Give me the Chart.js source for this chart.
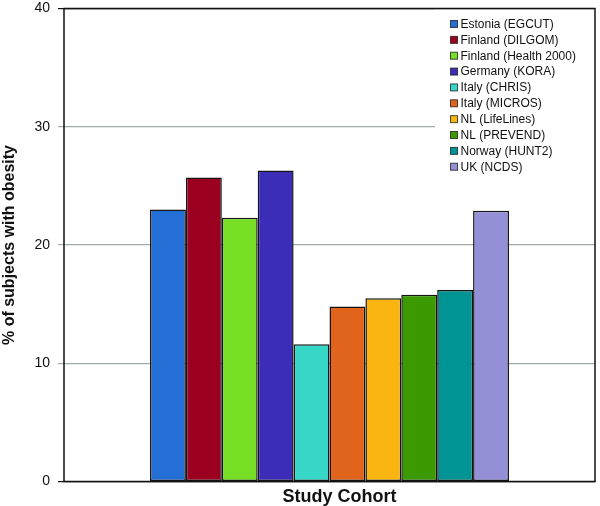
<!DOCTYPE html>
<html>
<head>
<meta charset="utf-8">
<script src="https://cdn.jsdelivr.net/npm/chart.js@4.4.1/dist/chart.umd.min.js"></script>
<style>
  html, body { margin: 0; padding: 0; background: #ffffff; }
  #wrap { width: 600px; height: 506px; }
</style>
</head>
<body>
<div id="wrap"><canvas id="c" width="600" height="506"></canvas></div>
<script>
// ---- data ----
const categories = ['Study Cohort'];
const cohorts = [
  'Estonia (EGCUT)', 'Finland (DILGOM)', 'Finland (Health 2000)', 'Germany (KORA)',
  'Italy (CHRIS)', 'Italy (MICROS)', 'NL (LifeLines)', 'NL (PREVEND)',
  'Norway (HUNT2)', 'UK (NCDS)'
];
const obesityPct = [23.0, 25.7, 22.3, 26.3, 11.6, 14.8, 15.5, 15.8, 16.2, 22.9];
const barColors = [
  '#236fd6', '#9b0020', '#76de24', '#3c2db9', '#37d7c8',
  '#e0641c', '#fab511', '#3a9a00', '#009494', '#9490d8'
];
const yTicks = [0, 10, 20, 30, 40];
const yTitle = '% of subjects with obesity';
const xTitle = 'Study Cohort';

const FONT = '"Liberation Sans", Arial, Helvetica, sans-serif';
const GRID_GRAY = '#a2acac';

const datasets = cohorts.map((name, i) => ({
  label: name,
  data: [obesityPct[i]],
  backgroundColor: barColors[i],
  borderColor: '#141414',
  borderWidth: 1.5,
  borderSkipped: false,
  barPercentage: 1.0,
  categoryPercentage: 0.676
}));

const decorPlugin = {
  id: 'decor',
  afterDraw(chart) {
    const ctx = chart.ctx;
    const ca = chart.chartArea;
    ctx.save();
    // legend box (white background inside plot area, top-right)
    const n = chart.data.datasets.length;
    const rowH = 15.86;
    const boxLeft = ca.right - 160;
    const firstY = ca.top + 15.5;
    ctx.fillStyle = '#ffffff';
    ctx.fillRect(boxLeft, ca.top + 1, ca.right - boxLeft, rowH * n + 10);
    ctx.font = '12px ' + FONT;
    ctx.textBaseline = 'middle';
    ctx.textAlign = 'left';
    chart.data.datasets.forEach((ds, i) => {
      const cy = firstY + i * rowH;
      const sx = boxLeft + 15.5;
      ctx.fillStyle = ds.backgroundColor;
      ctx.fillRect(sx, cy - 3.5, 7, 7);
      ctx.strokeStyle = 'rgba(20,20,20,0.75)';
      ctx.lineWidth = 1;
      ctx.strokeRect(sx, cy - 3.5, 7, 7);
      ctx.fillStyle = '#111111';
      ctx.fillText(ds.label, sx + 10, cy + 0.5);
    });
    // plot frame
    ctx.strokeStyle = '#111111';
    ctx.lineWidth = 1.5;
    ctx.strokeRect(ca.left, ca.top, ca.right - ca.left, ca.bottom - ca.top);
    // x axis title
    ctx.fillStyle = '#111111';
    ctx.font = 'bold 18px ' + FONT;
    ctx.textAlign = 'center';
    ctx.textBaseline = 'alphabetic';
    ctx.fillText(chart.data.labels[0], (ca.left + ca.right) / 2 + 10, ca.bottom + 20.5);
    ctx.restore();
  }
};

new Chart(document.getElementById('c'), {
  type: 'bar',
  data: { labels: categories, datasets: datasets },
  plugins: [decorPlugin],
  options: {
    responsive: false,
    animation: false,
    devicePixelRatio: 1,
    layout: { padding: { top: 0, right: 5, bottom: 0, left: 0 } },
    plugins: {
      legend: { display: false },
      tooltip: { enabled: false },
      title: { display: false }
    },
    scales: {
      x: {
        type: 'category',
        offset: true,
        ticks: { display: false },
        grid: { display: false },
        border: { display: false },
        title: { display: false, text: xTitle },
        afterFit(scale) { scale.height = 24.5; }
      },
      y: {
        min: 0,
        max: 40,
        afterBuildTicks(scale) { scale.ticks = yTicks.map(v => ({ value: v })); },
        ticks: {
          padding: 8,
          color: '#111111',
          font: { family: FONT, size: 14 }
        },
        grid: {
          drawTicks: true,
          tickLength: 6,
          lineWidth: 1.2,
          color: (c) => (c.tick && (c.tick.value === 0 || c.tick.value === 40)) ? '#111111' : GRID_GRAY
        },
        border: { display: false },
        title: {
          display: true,
          text: yTitle,
          color: '#111111',
          padding: 0,
          font: { family: FONT, size: 16, weight: 'bold' }
        },
        afterFit(scale) {
          scale.width = 64;
          scale.paddingTop = 8.5;
          scale.paddingBottom = 0;
        }
      }
    }
  }
});
</script>
</body>
</html>
